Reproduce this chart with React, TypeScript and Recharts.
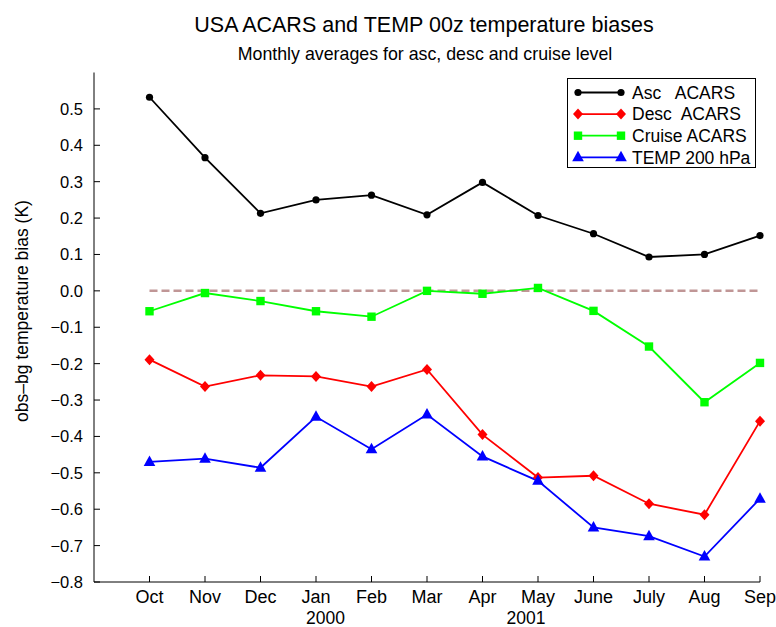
import React from 'react';
import { LineChart, Line, XAxis, YAxis, ReferenceLine } from 'recharts';

const months = ['Oct', 'Nov', 'Dec', 'Jan', 'Feb', 'Mar', 'Apr', 'May', 'June', 'July', 'Aug', 'Sep'];
const monthIndex = [0, 1, 2, 3, 4, 5, 6, 7, 8, 9, 10, 11];
const ascAcars = [0.532, 0.366, 0.213, 0.25, 0.263, 0.209, 0.298, 0.207, 0.157, 0.093, 0.1, 0.152];
const descAcars = [-0.189, -0.263, -0.232, -0.235, -0.263, -0.216, -0.395, -0.513, -0.508, -0.585, -0.615, -0.358];
const cruiseAcars = [-0.056, -0.006, -0.028, -0.056, -0.071, 0.0, -0.008, 0.008, -0.055, -0.153, -0.306, -0.198];
const temp200 = [-0.47, -0.461, -0.486, -0.346, -0.435, -0.34, -0.455, -0.522, -0.65, -0.674, -0.73, -0.571];
const yTicks = [-0.8, -0.7, -0.6, -0.5, -0.4, -0.3, -0.2, -0.1, 0.0, 0.1, 0.2, 0.3, 0.4, 0.5];
const yearLabels = ['2000', '2001'];

const rows = monthIndex.map((i) => ({
  x: i,
  asc: ascAcars[i],
  desc: descAcars[i],
  cruise: cruiseAcars[i],
  temp: temp200[i],
}));

const FONT = '"Liberation Sans", Arial, Helvetica, sans-serif';

const fmtY = (v: number) => {
  const s = Math.abs(v).toFixed(1);
  return v < -1e-9 ? '\u2212' + s : s;
};

const XTick = (p: any) => (
  <g>
    <line x1={p.x} x2={p.x} y1={p.y} y2={p.y - 6} stroke="#000" strokeWidth={1} />
    <text x={p.x} y={p.y + 21} textAnchor="middle" fontSize={18} fill="#000" fontFamily={FONT}>
      {months[p.payload.value]}
    </text>
  </g>
);
const TopTick = (p: any) => (
  <line x1={p.x} x2={p.x} y1={p.y} y2={p.y + 6} stroke="#000" strokeWidth={1} />
);
const YTick = (p: any) => (
  <g>
    <line x1={p.x} x2={p.x + 6} y1={p.y} y2={p.y} stroke="#000" strokeWidth={1} />
    <text x={p.x - 11} y={p.y + 6} textAnchor="end" fontSize={16.5} fill="#000" fontFamily={FONT}>
      {fmtY(p.payload.value)}
    </text>
  </g>
);
const RightTick = (p: any) => (
  <line x1={p.x} x2={p.x - 6} y1={p.y} y2={p.y} stroke="#000" strokeWidth={1} />
);

const circleDot = (p: any) => (
  <circle key={`c-${p.index}`} cx={p.cx} cy={p.cy} r={3.6} fill="#000" stroke="none" />
);
const diamondDot = (p: any) => (
  <polygon
    key={`d-${p.index}`}
    points={`${p.cx},${p.cy - 5.5} ${p.cx + 5},${p.cy} ${p.cx},${p.cy + 5.5} ${p.cx - 5},${p.cy}`}
    fill="#ff0000"
  />
);
const squareDot = (p: any) => (
  <rect key={`s-${p.index}`} x={p.cx - 4.2} y={p.cy - 4.2} width={8.4} height={8.4} fill="#00ff00" />
);
const triDot = (p: any) => (
  <polygon
    key={`t-${p.index}`}
    points={`${p.cx},${p.cy - 6.5} ${p.cx + 5.8},${p.cy + 4} ${p.cx - 5.8},${p.cy + 4}`}
    fill="#0000ff"
  />
);

const legendItems = [
  { label: 'Asc   ACARS', color: '#000000', shape: 'circle' },
  { label: 'Desc  ACARS', color: '#ff0000', shape: 'diamond' },
  { label: 'Cruise ACARS', color: '#00ff00', shape: 'square' },
  { label: 'TEMP 200 hPa', color: '#0000ff', shape: 'triangle' },
];

const Marker = ({ shape, color, cx, cy }: any) => {
  if (shape === 'circle') return <circle cx={cx} cy={cy} r={3.6} fill={color} />;
  if (shape === 'diamond')
    return <polygon points={`${cx},${cy - 5.5} ${cx + 5},${cy} ${cx},${cy + 5.5} ${cx - 5},${cy}`} fill={color} />;
  if (shape === 'square') return <rect x={cx - 4.2} y={cy - 4.2} width={8.4} height={8.4} fill={color} />;
  return <polygon points={`${cx},${cy - 6.5} ${cx + 5.8},${cy + 4} ${cx - 5.8},${cy + 4}`} fill={color} />;
};

export default function App() {
  return (
    <div style={{ position: 'absolute', left: 0, top: 0, width: 776, height: 627, fontFamily: FONT, background: '#fff', overflow: 'hidden' }}>
      <LineChart width={776} height={627} data={rows} margin={{ top: 72.5, right: 16, bottom: 15, left: 34 }}>
        <XAxis
          dataKey="x"
          type="number"
          domain={[-1, 11]}
          ticks={monthIndex}
          height={30}
          tickSize={0}
          tickMargin={0}
          tickLine={false}
          axisLine={{ stroke: '#000', strokeWidth: 1 }}
          tick={(p: any) => <XTick {...p} />}
          interval={0}
        />
        <XAxis
          xAxisId="top"
          orientation="top"
          dataKey="x"
          type="number"
          domain={[-1, 11]}
          ticks={monthIndex}
          height={0}
          tickSize={0}
          tickMargin={0}
          tickLine={false}
          axisLine={{ stroke: '#000', strokeWidth: 1 }}
          tick={(p: any) => <TopTick {...p} />}
          interval={0}
        />
        <YAxis
          type="number"
          domain={[-0.8, 0.6]}
          ticks={yTicks}
          width={60}
          tickSize={0}
          tickMargin={0}
          tickLine={false}
          axisLine={{ stroke: '#000', strokeWidth: 1 }}
          tick={(p: any) => <YTick {...p} />}
          interval={0}
        />
        <YAxis
          yAxisId="r"
          orientation="right"
          type="number"
          domain={[-0.8, 0.6]}
          ticks={yTicks}
          width={0}
          tickSize={0}
          tickMargin={0}
          tickLine={false}
          axisLine={{ stroke: '#666', strokeWidth: 1.5 }}
          tick={(p: any) => <RightTick {...p} />}
          interval={0}
        />
        <ReferenceLine
          segment={[{ x: 0, y: 0 }, { x: 11, y: 0 }]}
          stroke="#c09696"
          strokeWidth={2.5}
          strokeDasharray="8 4"
        />
        <Line dataKey="asc" stroke="#000000" strokeWidth={1.8} dot={circleDot} activeDot={false} isAnimationActive={false} />
        <Line dataKey="desc" stroke="#ff0000" strokeWidth={1.8} dot={diamondDot} activeDot={false} isAnimationActive={false} />
        <Line dataKey="cruise" stroke="#00ff00" strokeWidth={1.8} dot={squareDot} activeDot={false} isAnimationActive={false} />
        <Line dataKey="temp" stroke="#0000ff" strokeWidth={1.8} dot={triDot} activeDot={false} isAnimationActive={false} />
      </LineChart>
      <svg width={776} height={627} style={{ position: 'absolute', left: 0, top: 0, pointerEvents: 'none' }}>
        <text x={424} y={32} textAnchor="middle" fontSize={21.5} fill="#000" fontFamily={FONT}>
          USA ACARS and TEMP 00z temperature biases
        </text>
        <text x={425} y={59.5} textAnchor="middle" fontSize={17.8} fill="#000" fontFamily={FONT}>
          Monthly averages for asc, desc and cruise level
        </text>
        <text transform="translate(27.5, 311) rotate(-90)" textAnchor="middle" fontSize={17.5} fill="#000" fontFamily={FONT}>
          obs–bg temperature bias (K)
        </text>
        <text x={325.5} y={624} textAnchor="middle" fontSize={17.5} fill="#000" fontFamily={FONT}>
          {yearLabels[0]}
        </text>
        <text x={526} y={624} textAnchor="middle" fontSize={17.5} fill="#000" fontFamily={FONT}>
          {yearLabels[1]}
        </text>
      </svg>
      <div
        style={{
          position: 'absolute',
          left: 567,
          top: 77.5,
          width: 189,
          height: 90,
          border: '1px solid #000',
          background: '#fff',
          boxSizing: 'border-box',
        }}
      >
        <svg width={189} height={90} style={{ position: 'absolute', left: -1, top: -1 }}>
          {legendItems.map((it, i) => {
            const cy = 14.5 + i * 21.6;
            return (
              <g key={it.label}>
                <line x1={11} x2={54} y1={cy} y2={cy} stroke={it.color} strokeWidth={1.8} />
                <Marker shape={it.shape} color={it.color} cx={11} cy={cy} />
                <Marker shape={it.shape} color={it.color} cx={54} cy={cy} />
                <text x={65} y={cy + 6.2} fontSize={17.5} fill="#000" fontFamily={FONT} style={{ whiteSpace: 'pre' }}>
                  {it.label}
                </text>
              </g>
            );
          })}
        </svg>
      </div>
    </div>
  );
}
